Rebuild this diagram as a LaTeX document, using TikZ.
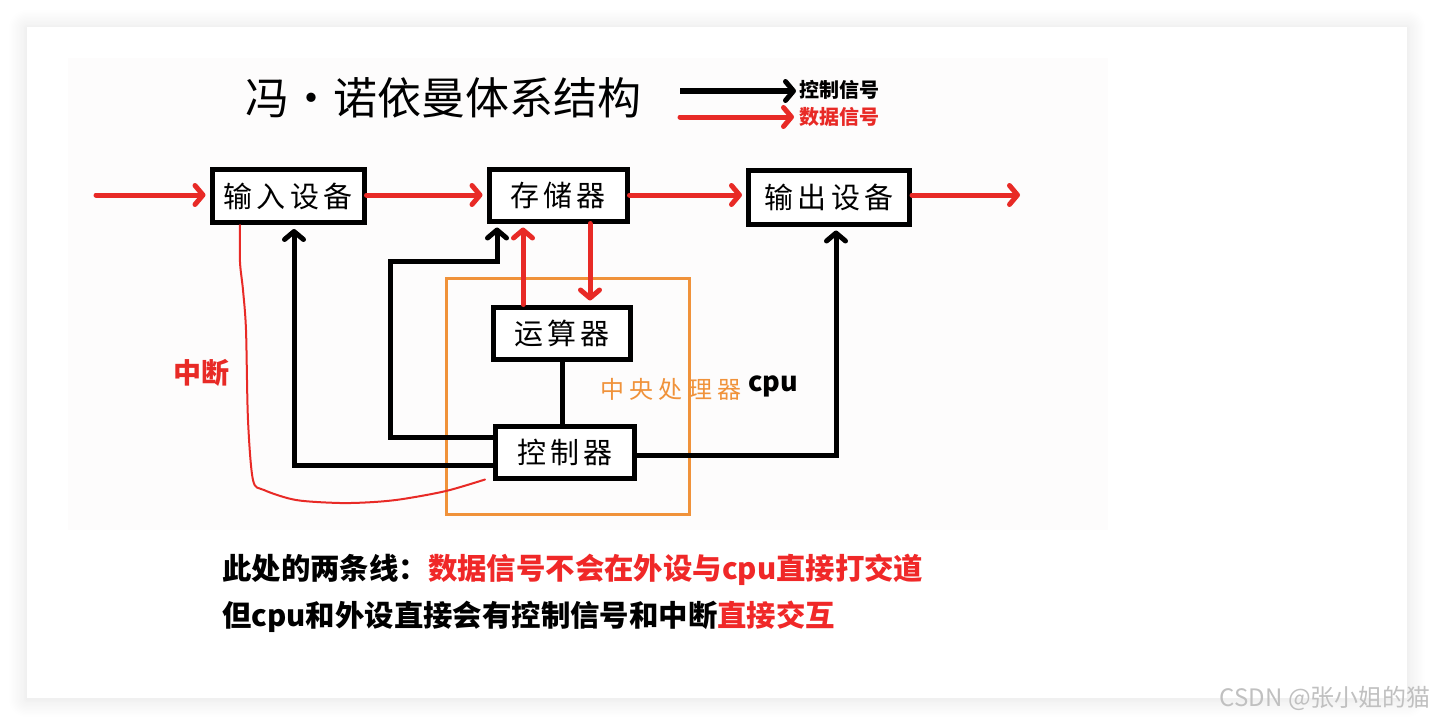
\documentclass[tikz,border=0pt]{standalone}
\usepackage{fontspec}
\newfontfamily\cjk{Noto Sans CJK SC}
\newfontfamily\cjkls[LetterSpace=14]{Noto Sans CJK SC}
\newfontfamily\cjkcpu[LetterSpace=22]{Noto Sans CJK SC}
\usetikzlibrary{arrows.meta,shadows.blur}
\definecolor{dred}{RGB}{232,42,38}
\definecolor{tred}{RGB}{240,40,40}
\definecolor{cpuor}{RGB}{240,146,58}
\definecolor{imgbg}{RGB}{253,252,252}
\definecolor{wmgray}{RGB}{192,192,192}
\begin{document}
\begin{tikzpicture}[x=1pt,y=-1pt,
  box/.style={draw=black, line width=5pt, fill=white, inner sep=0pt,
    font=\cjkls\fontsize{29pt}{30pt}\selectfont},
  tip/.style={-{Straight Barb[length=8pt,width=19pt,line width=5pt,round]}},
  data/.style={draw=dred, line width=5pt, line cap=round, tip, shorten >=4pt},
  ctrl/.style={draw=black, line width=5pt},
  ctrlarrow/.style={ctrl, tip, shorten >=4pt},
  intr/.style={draw=dred, line width=2pt, line cap=round, line join=round},
  cpubox/.style={draw=cpuor, line width=3pt},
  note/.style={anchor=west, inner sep=0pt, font=\cjk\bfseries\fontsize{29.4pt}{30pt}\selectfont}
]
\useasboundingbox (0,0) rectangle (1434,726);
% card
\fill[white, blur shadow={shadow xshift=0pt, shadow yshift=-1pt, shadow blur radius=18pt, shadow blur steps=14, shadow opacity=12}] (27,27) rectangle (1407,698);
\fill[imgbg] (68,58) rectangle (1108,530);

% title and legend
\node (title) [anchor=west, inner sep=0pt] at (245,98) {\cjk\fontsize{44pt}{46pt}\selectfont 冯·诺依曼体系结构};
\coordinate (lb0) at (680,91);
\coordinate (lr0) at (680,117);
\node (lbt) [anchor=west, inner sep=0pt] at (799,90) {\cjk\bfseries\fontsize{20pt}{21pt}\selectfont 控制信号};
\node (lrt) [anchor=west, inner sep=0pt, text=dred] at (799,117) {\cjk\bfseries\fontsize{20pt}{21pt}\selectfont 数据信号};
\draw[ctrlarrow, line width=6pt, shorten >=3pt] (lb0) -- (lbt.west |- lb0);
\draw[data, shorten >=5pt] (lr0) -- (lrt.west);

% cpu frame
\draw[cpubox] (446,278) rectangle (689,514);
\node (cpul) [anchor=west, inner sep=0pt, text=cpuor] at (600,389) {\cjkcpu\fontsize{24pt}{25pt}\selectfont 中央处理器};
\node (cpu) [anchor=west, inner sep=0pt] at (748,386) {\cjk\bfseries\fontsize{27pt}{28pt}\selectfont cpu};

% boxes
\node[box, minimum width=152pt, minimum height=53pt] (in) at (288,196) {输入设备};
\node[box, minimum width=138pt, minimum height=52pt] (mem) at (558,195) {存储器};
\node[box, minimum width=161pt, minimum height=54pt] (out) at (829,197) {输出设备};
\node[box, minimum width=137pt, minimum height=52pt] (alu) at (562,333) {运算器};
\node[box, minimum width=139pt, minimum height=52pt] (ctl) at (565,452) {控制器};

% data flow
\coordinate (src) at (96,195);
\coordinate (snk) at (1024,195);
\draw[data] (src) -- (src -| in.west);
\draw[data] (in.east |- 0,195) -- (mem.west |- 0,195);
\draw[data] (mem.east |- 0,195) -- (out.west |- 0,195);
\draw[data] (out.east |- 0,195) -- (snk);
\draw[data] ([xshift=-39pt]alu.north) -- ([xshift=-39pt]alu.north |- mem.south);
\draw[data] ([xshift=32pt]mem.south) -- ([xshift=32pt]mem.south |- alu.north);

% control flow
\draw[ctrl] (alu.south) -- (alu.south |- ctl.north);
\draw[ctrlarrow] ([yshift=-13pt]ctl.west) -| ([xshift=6pt]in.south);
\coordinate (k1) at (390,261);
\draw[ctrlarrow] ([yshift=15pt]ctl.west) -| (k1) -| ([xshift=-61pt]mem.south);
\draw[ctrlarrow] ([yshift=-3pt]ctl.east) -| ([xshift=7pt]out.south);

% interrupt
\coordinate (i0) at ([xshift=-48pt]in.south);
\coordinate (i1) at ([xshift=-8pt,yshift=1pt]ctl.south west);
\draw[intr] plot[smooth, tension=0.5] coordinates {(i0) (240,262) (243,290) (246,330) (248,420) (253,480) (264,490) (296,500) (340,503) (374,502) (403,499) (446,491) (i1)};
\node (int) [text=dred] at (201,373) {\cjk\bfseries\fontsize{28pt}{29pt}\selectfont 中断};

% notes
\node[note] (n1) at (222,570) {此处的两条线：\textcolor{tred}{数据信号不会在外设与cpu直接打交道}};
\node[note] (n2) at (222,617) {但cpu和外设直接会有控制信号和中断\textcolor{tred}{直接交互}};

% watermark
\node (wm) [anchor=east, inner sep=0pt, text=wmgray] at (1431,698) {\cjk\fontsize{24pt}{25pt}\selectfont CSDN @张小姐的猫};
\end{tikzpicture}
\end{document}
